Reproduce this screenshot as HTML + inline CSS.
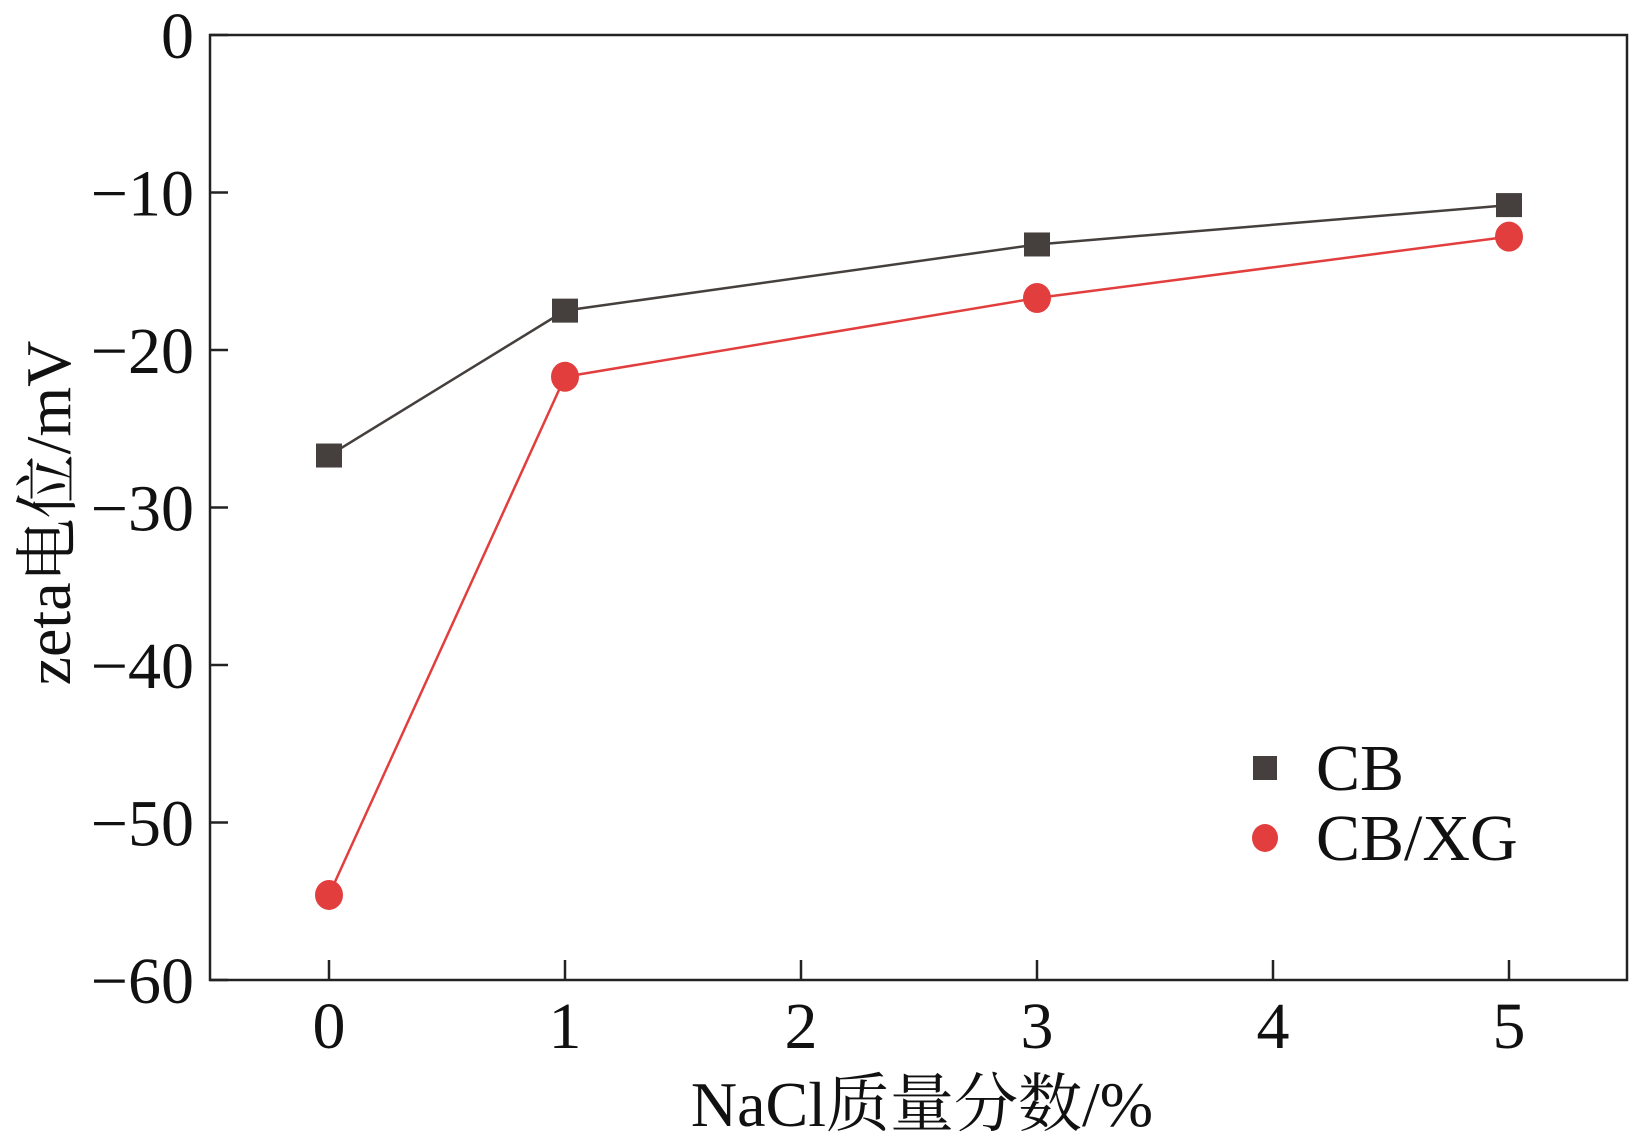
<!DOCTYPE html>
<html><head><meta charset="utf-8"><style>
html,body{margin:0;padding:0;background:#fff;}
svg{display:block;}
text{font-family:"Liberation Serif","Noto Serif CJK SC",serif;fill:#111;}
</style></head><body>
<svg id="chart" width="1642" height="1142" viewBox="0 0 1642 1142" xmlns="http://www.w3.org/2000/svg">
<g id="axes"></g>
<g id="series"></g>
<g id="legend"></g>
</svg>
<script>
const xCategories = [0, 1, 3, 5];
const xTickLabels = ["0","1","2","3","4","5"];
const yTickLabels = ["0","\u221210","\u221220","\u221230","\u221240","\u221250","\u221260"];
const yTickValues = [0,-10,-20,-30,-40,-50,-60];
const cbValues = [-26.7, -17.5, -13.3, -10.8];
const cbxgValues = [-54.6, -21.7, -16.7, -12.8];

const NS = "http://www.w3.org/2000/svg";
const L = 210, R = 1627, T = 35, B = 980;
function xs(v){ return 329 + v * 236; }
function ys(v){ return T + (0 - v) / 60 * (B - T); }
function mk(tag, attrs, parent){
  const e = document.createElementNS(NS, tag);
  for (const k in attrs) e.setAttribute(k, attrs[k]);
  parent.appendChild(e); return e;
}
const axes = document.getElementById('axes');
const series = document.getElementById('series');
const legend = document.getElementById('legend');

const frame = mk('rect', {x:L, y:T, width:R-L, height:B-T, fill:'none', stroke:'#222', 'stroke-width':2.5}, axes);



xTickLabels.forEach((lab, i) => {
  const x = xs(Number(lab));
  const t = mk('line', {x1:x, x2:x, y1:B, y2:B-20, stroke:'#222', 'stroke-width':2.5}, axes);
  
  
  const tx = mk('text', {x:x, y:1048, 'text-anchor':'middle', 'font-size':66}, axes);
  tx.textContent = lab;
  
  
});
yTickValues.forEach((v, i) => {
  const y = ys(v);
  const t = mk('line', {x1:L, x2:L+18, y1:y, y2:y, stroke:'#222', 'stroke-width':2.5}, axes);
  
  
  const tx = mk('text', {x:194, y:y+23, 'text-anchor':'end', 'font-size':66}, axes);
  tx.textContent = yTickLabels[i];
  
  
});
const xt = mk('text', {x:922, y:1126, 'text-anchor':'middle', 'font-size':64}, axes);
xt.textContent = 'NaCl质量分数/%';


const yt = mk('text', {x:0, y:0, 'text-anchor':'middle', 'font-size':64, transform:'translate(70,513) rotate(-90)'}, axes);
yt.textContent = 'zeta电位/mV';



function drawSeries(vals, color, shape, name){
  const pts = vals.map((v,i)=> xs(xCategories[i]) + ',' + ys(v)).join(' ');
  const pl = mk('polyline', {points:pts, fill:'none', stroke:color, 'stroke-width':2.5}, series);
  
  
  vals.forEach((v,i)=>{
    const x = xs(xCategories[i]), y = ys(v);
    let m;
    if (shape === 'square') m = mk('rect', {x:x-13, y:y-12, width:26, height:24, fill:color}, series);
    else m = mk('ellipse', {cx:x, cy:y, rx:14, ry:15, fill:color}, series);
    
    
  });
}
drawSeries(cbValues, '#45403d', 'square', 'cb');
drawSeries(cbxgValues, '#e33e3e', 'circle', 'cb-xg');

const l1 = mk('rect', {x:1253, y:756, width:24, height:24, fill:'#45403d'}, legend);


const l1t = mk('text', {x:1316, y:790, 'font-size':66}, legend);
l1t.textContent = 'CB';


const l2 = mk('ellipse', {cx:1265, cy:838, rx:13, ry:14, fill:'#e33e3e'}, legend);


const l2t = mk('text', {x:1316, y:860, 'font-size':66}, legend);
l2t.textContent = 'CB/XG';


</script>
</body></html>
